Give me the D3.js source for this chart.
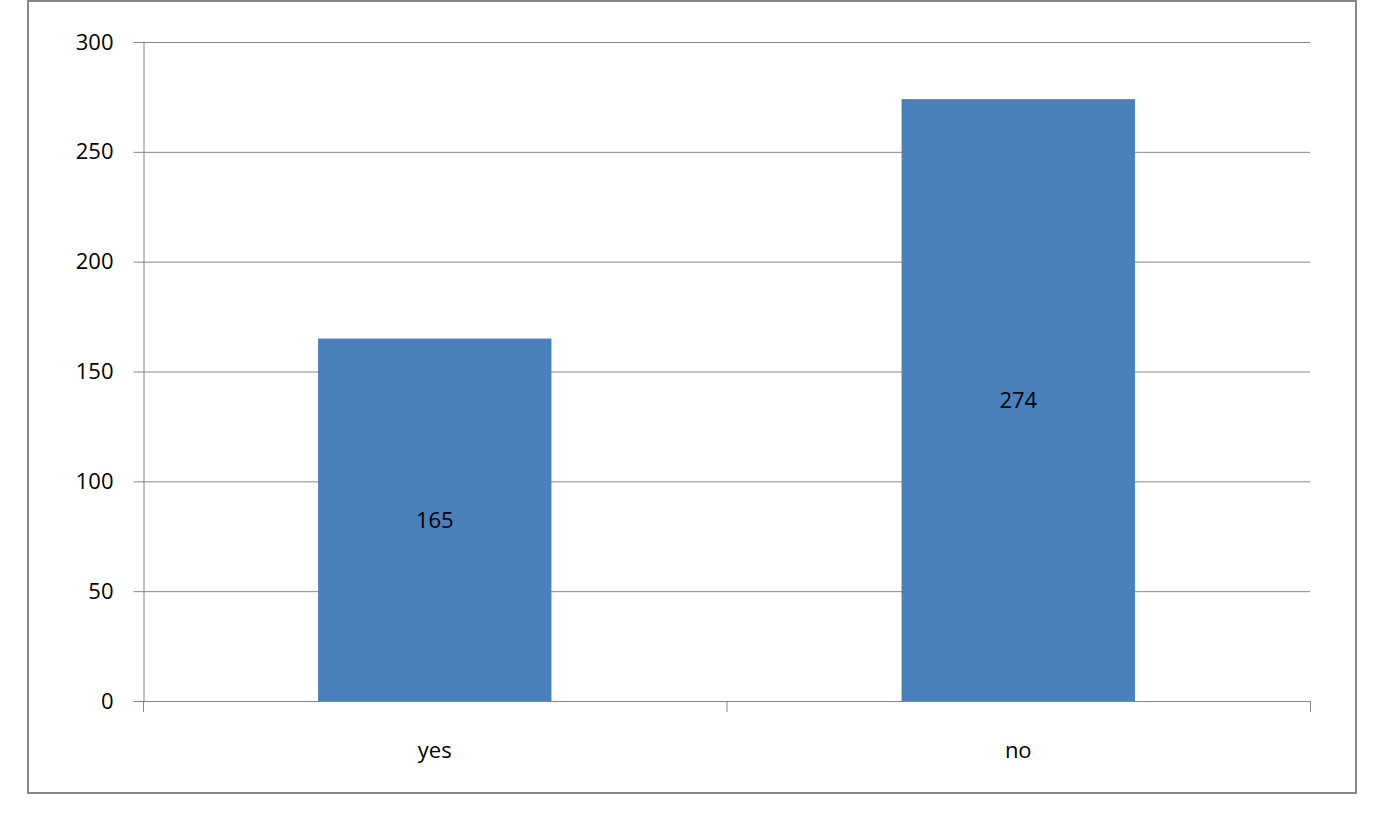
<!DOCTYPE html>
<html><head><meta charset="utf-8">
<script src="https://d3js.org/d3.v7.min.js"></script>
<style>body{margin:0;background:#fff}</style></head>
<body><svg id="c" width="1374" height="826"></svg>
<script>
const categories = ["yes","no"];
const values = [165,274];
const yTicks = [0,50,100,150,200,250,300];

const svg = d3.select("#c");
const font = "'Open Sans', 'Liberation Sans', sans-serif";
svg.append("rect").attr("x",28).attr("y",1).attr("width",1328).attr("height",792)
  .attr("fill","#fff").attr("stroke","#878787").attr("stroke-width",2);

const x = d3.scaleBand().domain(categories).range([143,1310]).paddingInner(0.6).paddingOuter(0.3);
const y = d3.scaleLinear().domain([0,300]).range([701,42]);

svg.append("g").selectAll("line").data(yTicks.filter(d=>d>0)).join("line")
  .attr("x1",143).attr("x2",1310).attr("y1",d=>y(d)+0.5).attr("y2",d=>y(d)+0.5)
  .attr("stroke","#868686").attr("stroke-width",1);

const ya = svg.append("g").attr("transform","translate(143.5,0)")
  .call(d3.axisLeft(y).tickValues(yTicks).tickSize(10).tickPadding(20));
ya.selectAll("path,line").attr("stroke","#868686");
ya.selectAll("text").attr("font-family",font).attr("font-size",22).attr("fill","#000");

svg.append("g").selectAll("rect").data(values).join("rect")
  .attr("x",(d,i)=>x(categories[i])).attr("width",x.bandwidth())
  .attr("y",d=>y(d)).attr("height",d=>y(0)-y(d)).attr("fill","#4a81bd");

svg.append("g").selectAll("text").data(values).join("text")
  .attr("x",(d,i)=>x(categories[i])+x.bandwidth()/2).attr("y",d=>(y(d)+y(0))/2+8)
  .attr("text-anchor","middle").attr("font-family",font).attr("font-size",22).text(d=>d);

svg.append("line").attr("x1",143).attr("x2",1310).attr("y1",701.5).attr("y2",701.5).attr("stroke","#868686");
const edges = [143, 726.5, 1310];
svg.append("g").selectAll("line").data(edges).join("line")
  .attr("x1",d=>d+0.5).attr("x2",d=>d+0.5).attr("y1",701).attr("y2",712).attr("stroke","#868686");
svg.append("g").selectAll("text").data(categories).join("text")
  .attr("x",d=>x(d)+x.bandwidth()/2).attr("y",758).attr("text-anchor","middle")
  .attr("font-family",font).attr("font-size",22).text(d=>d);
</script></body></html>
